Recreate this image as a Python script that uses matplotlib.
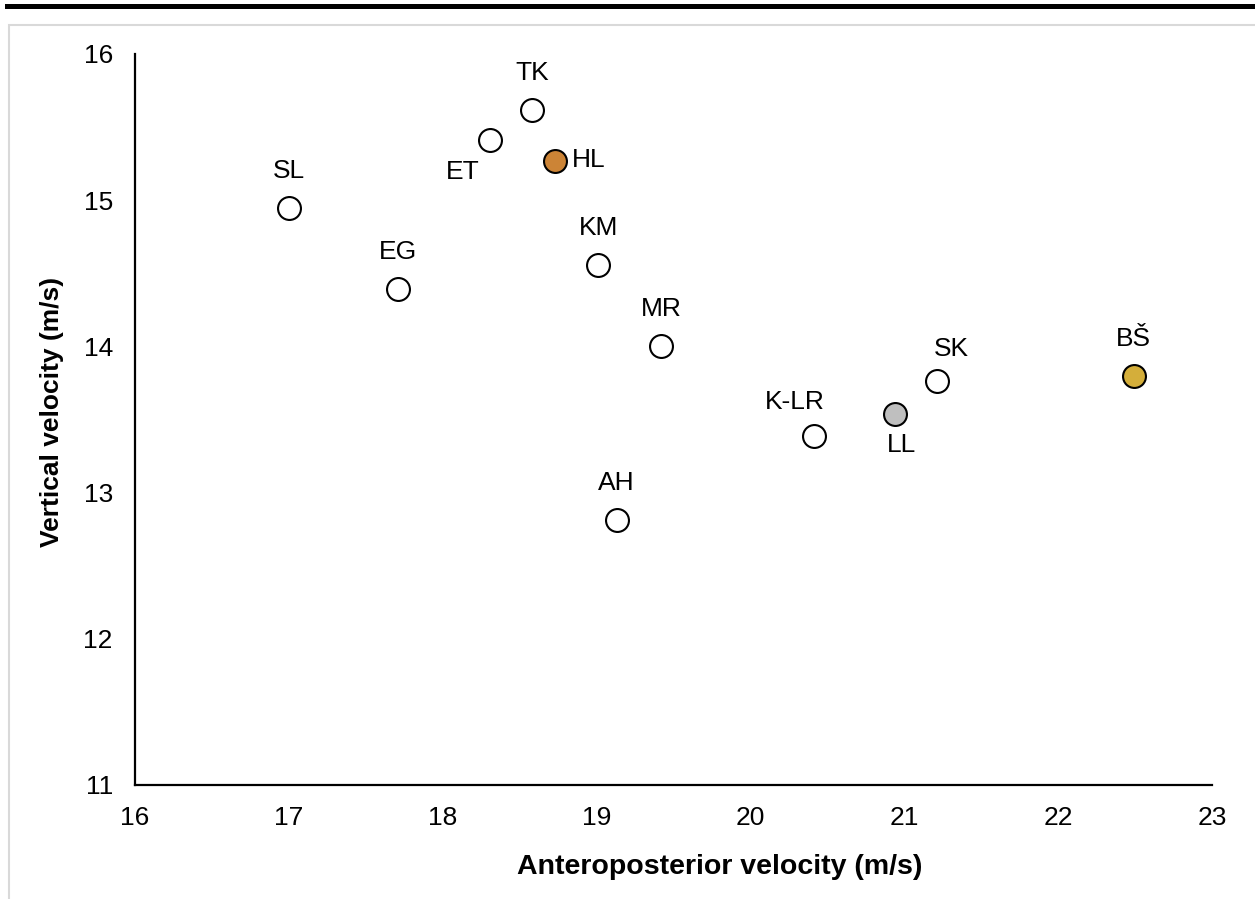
import matplotlib.pyplot as plt
from matplotlib.patches import Rectangle

plt.rcParams['font.family'] = ['Liberation Sans', 'DejaVu Sans']

# skier data
names = ["SL", "EG", "ET", "TK", "HL", "KM", "MR", "AH", "K-LR", "LL", "SK", "BŠ"]
ap_vel = [17.0, 17.71, 18.31, 18.58, 18.73, 19.01, 19.42, 19.13, 20.41, 20.94, 21.21, 22.49]
vert_vel = [14.95, 14.39, 15.41, 15.62, 15.27, 14.56, 14.0, 12.81, 13.39, 13.54, 13.76, 13.80]

fills = {"HL": "#CC8436", "LL": "#BFBFBF", "BŠ": "#D4AE3A"}
# label offsets in pixels (dx, dy; dy positive = up)
offsets = {"ET": (-28, -32), "HL": (17, 1), "LL": (6, -31), "SK": (15, 32), "K-LR": (-19, 34)}

fig = plt.figure(figsize=(12.55, 8.99), dpi=100)
ax = fig.add_axes([135/1255, 1-785/899, 1077/1255, 731/899])

for n, x, y in zip(names, ap_vel, vert_vel):
    ax.plot(x, y, 'o', ms=16.5, mfc=fills.get(n, 'white'), mec='black', mew=1.5,
            clip_on=False, zorder=3)
    dx, dy = offsets.get(n, (0, 37))
    ha = 'left' if n == "HL" else 'center'
    ax.annotate(n, (x, y), xytext=(dx*0.72, dy*0.72), textcoords='offset points',
                ha=ha, va='center', fontsize=19)

ax.set_xlim(16, 23)
ax.set_ylim(11, 16)
ax.set_xticks(range(16, 24))
ax.set_yticks(range(11, 17))
ax.tick_params(length=0, labelsize=19)
ax.tick_params(axis='x', pad=15)
ax.tick_params(axis='y', pad=16)
for s in ['top', 'right']:
    ax.spines[s].set_visible(False)
for s in ['left', 'bottom']:
    ax.spines[s].set_linewidth(1.6)

ax.set_xlabel("Anteroposterior velocity (m/s)", fontsize=20.5, fontweight='bold')
ax.set_ylabel("Vertical velocity (m/s)", fontsize=19, fontweight='bold')
ax.xaxis.set_label_coords(0.543, -0.095)
ax.yaxis.set_label_coords(-0.066, 0.51)

# chart frame and the heavy rule above it
fig.patches.append(Rectangle((9/1255, -0.05), 1.1, 1-25/899+0.05, transform=fig.transFigure,
                             fill=False, ec='#D9D9D9', lw=1.5))
fig.patches.append(Rectangle((5/1255, 1-9/899), 1.0, 5/899, transform=fig.transFigure,
                             fc='black', ec='none'))

fig.savefig("out.png", dpi=100)
